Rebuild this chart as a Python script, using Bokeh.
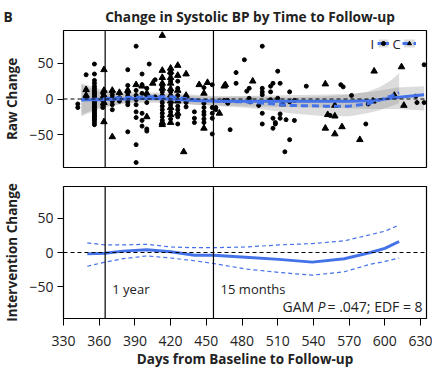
import numpy as np
from bokeh.plotting import figure
from bokeh.layouts import column
from bokeh.models import Span, Label, Legend, LegendItem, FixedTicker, Range1d
from bokeh.embed import file_html
from bokeh.resources import INLINE

# ---------------- data ----------------
I_points = [
    (342, -7), (342, -12), (349, 34), (349, 1),
    (356, 49), (356, 35), (356, 26), (356, 22), (356, 18), (356, 15), (356, 12), (356, 10), (356, 8),
    (356, 6), (356, 4), (356, 2), (356, 0), (356, -2), (356, -4), (356, -6), (356, -8), (356, -10),
    (356, -12), (356, -14), (356, -16), (356, -18), (356, -20), (356, -22), (356, -24), (356, -26),
    (356, -28), (356, -30), (356, -33), (356, -36),
    (363, 8), (363, 2), (363, -2), (363, -8), (363, -12),
    (371, 10), (371, 6), (371, 2), (371, -3), (371, -8), (371, -15),
    (377, 2), (377, -3),
    (384, 41), (384, 19), (384, 12), (384, 8), (384, 4), (384, 0), (384, -4), (384, -8), (384, -46),
    (391, 74), (391, 12), (391, 5), (391, -1), (391, -8), (391, -18), (391, -26), (391, -64), (391, -89),
    (396, 35), (396, 20), (396, 8), (396, -20), (396, -30), (396, -38),
    (400, 15), (400, 5), (400, -5), (400, -42), (400, -45), (402, 49),
    (407, 27), (407, 3),
    (413, 18), (413, 10), (413, 5), (413, 0), (413, -5), (413, -10), (413, -15), (413, -20), (413, -25), (413, -30),
    (420, 35), (420, 25), (420, 10), (420, 0), (420, -8), (420, -18), (420, -28),
    (426, 25), (426, 15), (426, 5), (426, -10), (426, -15), (426, -25), (426, -35),
    (433, -5), (433, -11),
    (440, -18), (440, -27), (440, -33),
    (448, 16), (448, -6), (448, -12), (448, -18), (448, -22), (448, -28), (448, -33),
    (455, 20), (455, -12), (455, -20), (455, -27), (455, -49),
    (458, -12), (458, -15),
    (465, -2), (468, -2), (468, -6), (470, -43),
    (475, 37), (475, 22), (482, 55),
    (484, 11), (486, 15), (486, 1), (487, -4), (494, -9),
    (497, 74), (497, 15), (497, 10), (497, 6), (497, -20), (497, -35),
    (504, 18), (504, 10), (504, -1),
    (506, 22), (506, -27), (506, -41), (508, -33), (508, -35),
    (510, 39), (510, 1), (512, 22), (512, -21), (512, -27),
    (516, -74), (517, -29), (520, -57), (520, 10), (520, -4),
    (524, -2), (524, -30), (534, 18),
    (554, -23), (563, 20), (565, 17), (572, 5), (584, -35), (586, -7),
    (626, 4), (627, -5), (633, 48), (633, -5),
]
C_points = [
    (349, 13), (349, 5),
    (364, 41), (364, 12), (364, 5), (364, -5), (364, -32),
    (371, 12), (371, -53), (377, 9), (384, 12), (391, 20), (396, 18),
    (400, 8), (400, -25), (405, 22),
    (413, 89), (413, 40), (413, 30), (413, 22), (413, 15), (413, -33), (413, -36),
    (420, 43), (420, 38), (420, 30), (420, 22), (420, 14), (420, 5), (420, -3), (420, -12), (420, -22), (420, -33),
    (426, 47), (426, 33), (426, 12), (426, -3), (426, -20),
    (433, 35), (433, 5), (433, 0), (431, -74),
    (444, 20), (448, 8), (448, -41), (451, 23),
    (461, -20), (465, 18), (466, 20),
    (489, 25), (514, -7),
    (550, 21), (552, -22), (550, -41),
    (558, -9), (558, -24), (558, -49), (564, -39),
    (579, -57), (590, -3), (591, 39), (608, 5), (614, 45), (616, -9),
]
I_days = [p[0] for p in I_points]
I_change = [p[1] for p in I_points]
C_days = [p[0] for p in C_points]
C_change = [p[1] for p in C_points]

# smooth fits (top panel)
I_fit_x = [345, 360, 380, 400, 420, 440, 460, 500, 540, 570, 590, 610, 633]
I_fit_y = [-1, -1, 0, 1, 0, -2, -3, -3, -3, -3, -2, 2, 6]
I_fit_lo = [-22, -12, -7, -5, -6, -8, -9, -11, -12, -13, -14, -14, -16]
I_fit_hi = [20, 10, 7, 7, 6, 4, 3, 5, 6, 7, 10, 16, 18]

C_fit_x = [345, 360, 380, 400, 420, 440, 460, 480, 500, 520, 550, 570, 585, 595, 605, 612]
C_fit_y = [-1, 0, 2, 3, 3, -1, -3, -4, -6, -9, -10, -10, -7, -2, 4, 9]
C_fit_lo = [-24, -14, -6, -3, -3, -8, -10, -12, -15, -20, -24, -24, -20, -16, -10, -6]
C_fit_hi = [22, 14, 10, 9, 9, 6, 4, 4, 3, 2, 4, 6, 10, 16, 26, 36]

# intervention effect (bottom panel)
D_x = [350, 365, 380, 400, 420, 440, 456, 483, 511, 539, 566, 588, 600, 612]
D_y = [-2, -1, 2, 4, 1, -4, -4, -7, -10, -14, -9, 0, 6, 16]
D_hi = [14, 11, 11, 12, 8, 7, 7, 8, 11, 13, 17, 26, 31, 40]
D_lo = [-20, -14, -9, -5, -8, -12, -16, -24, -29, -33, -28, -17, -13, -8]

milestones = [365, 456]
x_ticks = [330, 360, 390, 420, 450, 480, 510, 540, 570, 600, 630]
y_ticks = [-50, 0, 50]

PANEL = "B"
TITLE = "Change in Systolic BP by Time to Follow-up"

# ---------------- style ----------------
FONT = "Open Sans"
TXT = "#222222"
BLUE = "#4472e8"
X_RANGE = (330, 635)
Y_RANGE = (-96, 96)
W = 432


def style(p):
    p.outline_line_color = "black"
    p.outline_line_width = 1.2
    p.xgrid.visible = False
    p.ygrid.visible = False
    p.background_fill_color = "white"
    p.border_fill_color = "white"
    for ax in p.yaxis:
        ax.ticker = FixedTicker(ticks=y_ticks)
        ax.major_label_text_font = FONT
        ax.major_label_text_font_size = "14px"
        ax.major_label_text_color = TXT
        ax.axis_label_text_font = FONT
        ax.axis_label_text_font_style = "bold"
        ax.axis_label_text_font_size = "13.5px"
        ax.axis_label_text_color = TXT
        ax.axis_label_standoff = 5
        ax.major_label_standoff = 4
        ax.major_tick_out = 6
        ax.major_tick_in = 0
        ax.minor_tick_line_color = None
        ax.axis_line_color = None
        ax.major_tick_line_color = "black"
    for v in milestones:
        p.add_layout(Span(location=v, dimension="height", line_color="black", line_width=1.2))
    p.add_layout(Span(location=0, dimension="width", line_color="black", line_width=1, line_dash="4 3"))


# ---------------- top panel ----------------
p1 = figure(width=W, height=176, x_range=Range1d(*X_RANGE), y_range=Range1d(*Y_RANGE),
            output_backend="svg", toolbar_location=None, x_axis_location=None,
            min_border_left=57, min_border_right=6, min_border_top=29, min_border_bottom=9)
style(p1)
p1.yaxis.axis_label = "Raw Change"
p1.title.text = PANEL + "\u00a0" * 26 + TITLE
p1.title.align = "left"
p1.title.offset = -60
p1.title.standoff = 9
p1.title.text_font = FONT
p1.title.text_font_size = "13.7px"
p1.title.text_font_style = "bold"
p1.title.text_color = TXT

bandI = p1.varea(x=I_fit_x, y1=I_fit_lo, y2=I_fit_hi, fill_color="#8c8c8c", fill_alpha=0.3)
bandC = p1.varea(x=C_fit_x, y1=C_fit_lo, y2=C_fit_hi, fill_color="#8c8c8c", fill_alpha=0.3)
ptsI = p1.scatter(I_days, I_change, marker="circle", size=4, color="black")
ptsC = p1.scatter(C_days, C_change, marker="triangle", size=6.5, color="black")
lineI = p1.line(I_fit_x, I_fit_y, line_color=BLUE, line_width=3)
lineC = p1.line(C_fit_x, C_fit_y, line_color=BLUE, line_width=3, line_dash="7 4")

legI = Legend(items=[LegendItem(label=" ", renderers=[bandI, lineI, ptsI])], location=(314, 119),
              padding=0, margin=0, glyph_width=12, glyph_height=10, label_width=0, label_standoff=0,
              background_fill_alpha=0, border_line_alpha=0, label_text_font_size="1px")
legC = Legend(items=[LegendItem(label=" ", renderers=[bandC, lineC, ptsC])], location=(339, 119),
              padding=0, margin=0, glyph_width=14, glyph_height=10, label_width=0, label_standoff=0,
              background_fill_alpha=0, border_line_alpha=0, label_text_font_size="1px")
p1.add_layout(legI)
p1.add_layout(legC)
for txt, sx in [("I", 307), ("C", 329)]:
    p1.add_layout(Label(x=sx, y=124, x_units="screen", y_units="screen", text=txt,
                        text_font=FONT, text_font_size="13px", text_color=TXT,
                        text_baseline="middle"))

# ---------------- bottom panel ----------------
p2 = figure(width=W, height=198, x_range=Range1d(*X_RANGE), y_range=Range1d(*Y_RANGE),
            output_backend="svg", toolbar_location=None,
            min_border_left=57, min_border_right=6, min_border_top=10, min_border_bottom=56)
style(p2)
p2.yaxis.axis_label = "Intervention Change"
xa = p2.xaxis[0]
xa.ticker = FixedTicker(ticks=x_ticks)
xa.axis_label = "Days from Baseline to Follow-up"
xa.major_label_text_font = FONT
xa.major_label_text_font_size = "14px"
xa.major_label_text_color = TXT
xa.major_label_standoff = 10
xa.axis_label_text_font = FONT
xa.axis_label_text_font_style = "bold"
xa.axis_label_text_font_size = "13.5px"
xa.axis_label_text_color = TXT
xa.axis_label_standoff = 1
xa.major_tick_out = 7
xa.major_tick_in = 0
xa.minor_tick_line_color = None
xa.axis_line_color = None

p2.line(D_x, D_hi, line_color=BLUE, line_width=1.2, line_dash="4 3")
p2.line(D_x, D_lo, line_color=BLUE, line_width=1.2, line_dash="4 3")
p2.line(D_x, D_y, line_color=BLUE, line_width=3)

lab = dict(text_font=FONT, text_font_size="13px", text_color=TXT, text_baseline="middle")
p2.add_layout(Label(x=371, y=-53, text="1 year", **lab))
p2.add_layout(Label(x=462, y=-53, text="15 months", **lab))
gam = dict(lab, text_font_size="14px")
p2.add_layout(Label(x=514, y=-79, text="GAM", **gam))
p2.add_layout(Label(x=514, y=-79, x_offset=35, text="P", text_font_style="italic", **gam))
p2.add_layout(Label(x=514, y=-79, x_offset=45, text="= .047; EDF = 8", **gam))

layout = column(p1, p2, spacing=0)
open("out.html", "w").write(file_html(layout, INLINE))
